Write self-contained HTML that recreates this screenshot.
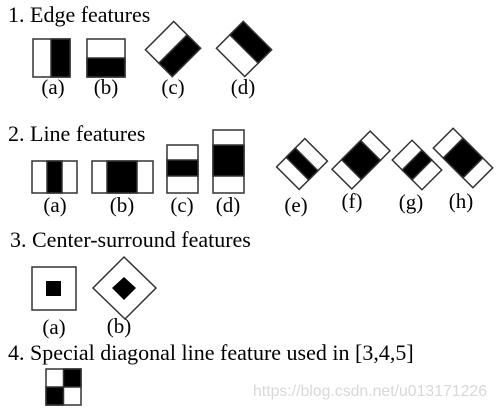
<!DOCTYPE html>
<html><head><meta charset="utf-8"><style>
html,body{margin:0;padding:0;background:#fff;}
svg{display:block;}
text{font-family:"Liberation Serif",serif;fill:#000;}
</style></head><body>
<svg width="496" height="408" viewBox="0 0 496 408">
<g stroke="#333" stroke-width="1.5">
<!-- Section 1 -->
<text x="8" y="22" font-size="22" stroke="none">1. Edge features</text>
<g>
<rect x="33" y="39" width="37" height="38" fill="#fff"/><rect x="51" y="39" width="19" height="38" fill="#000"/></g>
<g>
<rect x="87" y="39" width="38" height="38" fill="#fff"/><rect x="87" y="58" width="38" height="19" fill="#000"/></g>
<g transform="translate(173,49) rotate(-45)">
<rect x="-20" y="-19" width="40" height="38" fill="#fff"/><rect x="-20" y="0" width="40" height="19" fill="#000"/></g>
<g transform="translate(244,49) rotate(45)">
<rect x="-20" y="-19" width="40" height="38" fill="#fff"/><rect x="-20" y="-19" width="40" height="19" fill="#000"/></g>
<g font-size="21" stroke="none" text-anchor="middle">
<text x="53" y="94">(a)</text>
<text x="106" y="94">(b)</text>
<text x="173" y="94">(c)</text>
<text x="243" y="94">(d)</text>
</g>
<!-- Section 2 -->
<text x="8" y="141" font-size="22" stroke="none">2. Line features</text>
<g>
<rect x="32" y="161" width="45" height="32" fill="#fff"/><rect x="47" y="161" width="15" height="32" fill="#000"/></g>
<g>
<rect x="92" y="161" width="61" height="32" fill="#fff"/><rect x="107" y="161" width="30" height="32" fill="#000"/></g>
<g>
<rect x="167" y="145" width="31" height="48" fill="#fff"/><rect x="167" y="160" width="31" height="16" fill="#000"/></g>
<g>
<rect x="213" y="130" width="31" height="63" fill="#fff"/><rect x="213" y="145" width="31" height="31" fill="#000"/></g>
<g transform="translate(302,164) rotate(-45)">
<rect x="-20" y="-16" width="40" height="32" fill="#fff"/><rect x="-6.5" y="-16" width="13" height="32" fill="#000"/></g>
<g transform="translate(361,160) rotate(-45)">
<rect x="-27" y="-14" width="54" height="28" fill="#fff"/><rect x="-13.5" y="-14" width="27" height="28" fill="#000"/></g>
<g transform="translate(417,165) rotate(45)">
<rect x="-21" y="-14" width="42" height="28" fill="#fff"/><rect x="-7" y="-14" width="14" height="28" fill="#000"/></g>
<g transform="translate(463,158) rotate(45)">
<rect x="-28" y="-14" width="56" height="28" fill="#fff"/><rect x="-14" y="-14" width="28" height="28" fill="#000"/></g>
<g font-size="21" stroke="none" text-anchor="middle">
<text x="55" y="212">(a)</text>
<text x="122" y="212">(b)</text>
<text x="182" y="212">(c)</text>
<text x="228" y="212">(d)</text>
<text x="296" y="212">(e)</text>
<text x="352" y="208">(f)</text>
<text x="411" y="209">(g)</text>
<text x="461" y="208">(h)</text>
</g>
<!-- Section 3 -->
<text x="10" y="247" font-size="22" stroke="none">3. Center-surround features</text>
<g>
<rect x="32" y="267" width="44" height="43" fill="#fff"/><rect x="46" y="281" width="15" height="15" fill="#000" stroke="none"/></g>
<g>
<polygon points="124,257 156,288 125,319 93,288" fill="#fff"/><polygon points="124,277 136,288 124,300 112,288" fill="#000" stroke="none"/></g>
<g font-size="21" stroke="none" text-anchor="middle">
<text x="54" y="334">(a)</text>
<text x="119" y="333">(b)</text>
</g>
<!-- Section 4 -->
<text x="8" y="360" font-size="22" stroke="none">4. Special diagonal line feature used in [3,4,5]</text>
<g>
<rect x="46" y="369" width="35" height="36" fill="#fff"/><rect x="63.5" y="369" width="17.5" height="18" fill="#000"/><rect x="46" y="387" width="17.5" height="18" fill="#000"/></g>
</g>
<text x="253" y="396" font-size="16" textLength="234" lengthAdjust="spacingAndGlyphs" style="font-family:'Liberation Sans',sans-serif;fill:#d8d8d8">https://blog.csdn.net/u013171226</text>
</svg>
</body></html>
